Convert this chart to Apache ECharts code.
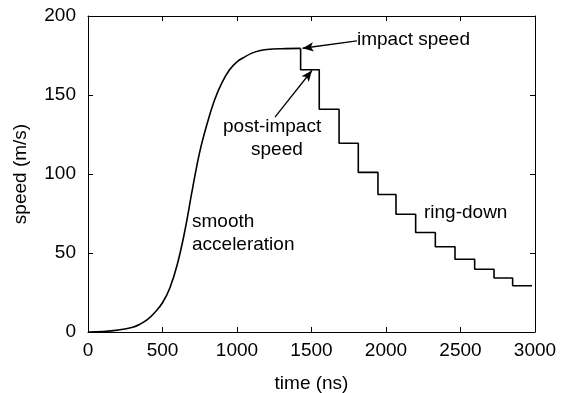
<!DOCTYPE html>
<html>
<head>
<meta charset="utf-8">
<script src="https://cdn.jsdelivr.net/npm/echarts@6/dist/echarts.min.js"></script>
<style>
  html, body { margin: 0; padding: 0; background: #fff; }
  #chart { width: 561px; height: 393px; }
</style>
</head>
<body>
<div id="chart"></div>
<script>
// smooth acceleration part (time in ns, speed in m/s)
const accelTime = [0, 100, 200, 300, 350, 400, 450, 500, 550, 600, 650, 700, 750, 800, 850, 900, 950, 1000, 1050, 1100, 1150, 1200, 1300, 1427];
const accelSpeed = [0, 0.3, 1.2, 3, 5, 8, 12.5, 18.5, 28, 43, 64, 90, 114, 132, 147, 158, 166, 171, 174, 176.5, 178, 178.8, 179.3, 179.5];

// ring-down: times of each drop, and the level after each drop
const stepTimes = [1427, 1552, 1685, 1814, 1946, 2067, 2199, 2331, 2463, 2595, 2725, 2850, 2980];
const stepLevels = [166, 141, 119.5, 101, 87, 74.5, 63, 54, 46, 39.7, 34.2, 29.3];
const impactSpeed = 179.5;

const xTicks = { min: 0, max: 3000, interval: 500 };
const yTicks = { min: 0, max: 200, interval: 50 };

const FONT = '"Liberation Sans", Arial, Helvetica, sans-serif';

const accelData = accelTime.map((t, i) => [t, accelSpeed[i]]);
const stepData = [[stepTimes[0], impactSpeed]];
for (let i = 0; i < stepLevels.length; i++) {
    stepData.push([stepTimes[i + 1], stepLevels[i]]);
}

const chart = echarts.init(document.getElementById('chart'));

const axisCommon = {
    type: 'value',
    axisLine: { show: true, onZero: false, lineStyle: { color: '#000', width: 1 } },
    axisTick: { show: true, inside: true, length: 5, lineStyle: { color: '#000' } },
    splitLine: { show: false },
};

const plainNum = (v) => String(v);

const option = {
    animation: false,
    backgroundColor: '#fff',
    grid: { left: 88, right: 26, top: 16, bottom: 61, containLabel: false, outerBoundsMode: 'none' },
    xAxis: [
        Object.assign({}, axisCommon, {
            position: 'bottom',
            min: xTicks.min, max: xTicks.max, interval: xTicks.interval,
            axisLabel: { color: '#000', fontSize: 19, fontFamily: FONT, margin: 9, formatter: plainNum },
            name: 'time (ns)',
            nameLocation: 'middle',
            nameGap: 42,
            nameTextStyle: { color: '#000', fontSize: 19, fontFamily: FONT },
        }),
        Object.assign({}, axisCommon, {
            position: 'top',
            min: xTicks.min, max: xTicks.max, interval: xTicks.interval,
            axisLabel: { show: false },
        }),
    ],
    yAxis: [
        Object.assign({}, axisCommon, {
            position: 'left',
            min: yTicks.min, max: yTicks.max, interval: yTicks.interval,
            axisLabel: { color: '#000', fontSize: 19, fontFamily: FONT, margin: 12, formatter: plainNum },
            name: 'speed (m/s)',
            nameLocation: 'middle',
            nameGap: 58,
            nameTextStyle: { color: '#000', fontSize: 19, fontFamily: FONT },
        }),
        Object.assign({}, axisCommon, {
            position: 'right',
            min: yTicks.min, max: yTicks.max, interval: yTicks.interval,
            axisLabel: { show: false },
        }),
    ],
    series: [
        {
            type: 'line',
            data: accelData,
            showSymbol: false,
            smooth: 0.4,
            lineStyle: { color: '#000', width: 1.6 },
            silent: true,
        },
        {
            type: 'line',
            data: stepData,
            step: 'start',
            showSymbol: false,
            lineStyle: { color: '#000', width: 1.6 },
            silent: true,
            markLine: {
                silent: true,
                symbol: ['none', 'arrow'],
                symbolSize: [7, 11],
                label: { show: false },
                lineStyle: { color: '#000', width: 1.3, type: 'solid' },
                data: [
                    [{ coord: [1805, 184.2] }, { coord: [1440, 179.6] }],
                    [{ coord: [1255, 136] }, { coord: [1503, 165.5] }],
                ],
            },
        },
    ],
    graphic: [
        { type: 'text', left: 357, top: 30, style: { text: 'impact speed', fontSize: 19, fontFamily: FONT, fill: '#000' } },
        { type: 'text', left: 223, top: 117, style: { text: 'post-impact', fontSize: 19, fontFamily: FONT, fill: '#000' } },
        { type: 'text', left: 251, top: 140, style: { text: 'speed', fontSize: 19, fontFamily: FONT, fill: '#000' } },
        { type: 'text', left: 192, top: 212, style: { text: 'smooth', fontSize: 19, fontFamily: FONT, fill: '#000' } },
        { type: 'text', left: 192, top: 235, style: { text: 'acceleration', fontSize: 19, fontFamily: FONT, fill: '#000' } },
        { type: 'text', left: 424, top: 203, style: { text: 'ring-down', fontSize: 19, fontFamily: FONT, fill: '#000' } },
    ],
};

chart.setOption(option);
</script>
</body>
</html>
